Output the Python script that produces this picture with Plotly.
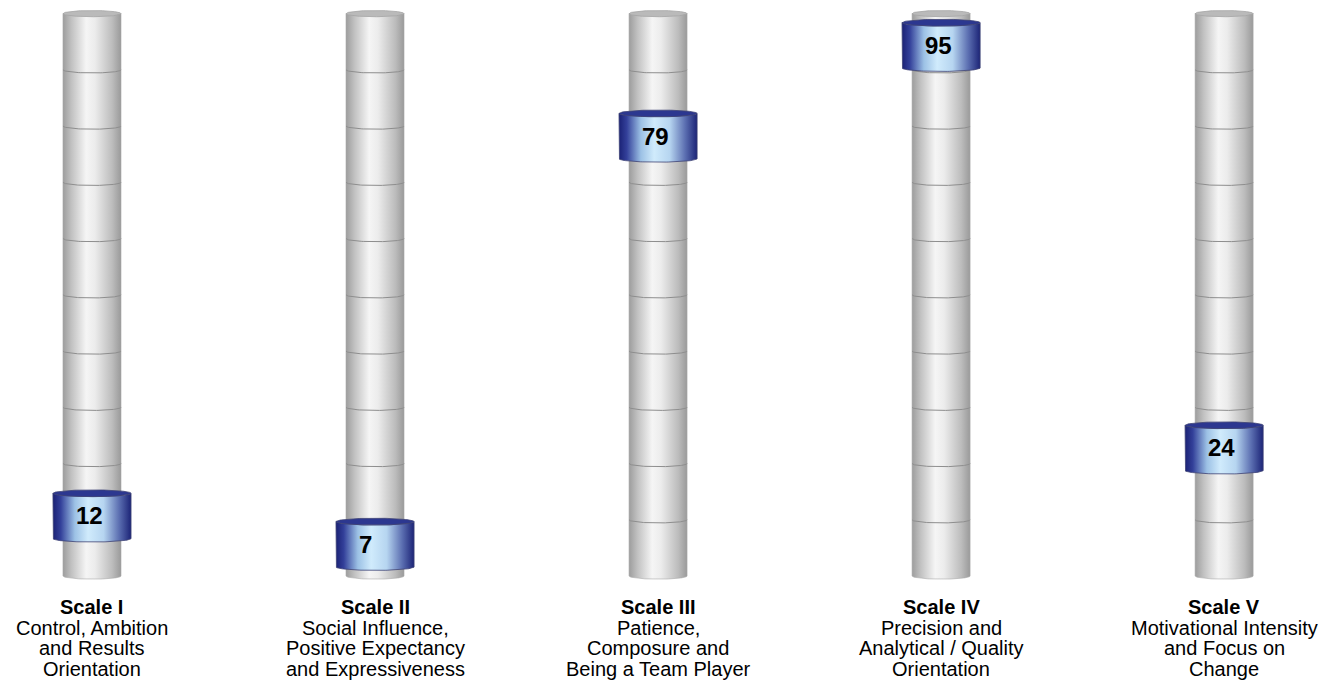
import numpy as np
import plotly.graph_objects as go

# ---- data ----
scale_names = ["Scale I", "Scale II", "Scale III", "Scale IV", "Scale V"]
scale_line1 = ["Control, Ambition", "Social Influence,", "Patience,", "Precision and", "Motivational Intensity"]
scale_line2 = ["and Results", "Positive Expectancy", "Composure and", "Analytical / Quality", "and Focus on"]
scale_line3 = ["Orientation", "and Expressiveness", "Being a Team Player", "Orientation", "Change"]
scores = [12, 7, 79, 95, 24]

# ---- geometry / style constants ----
W, H = 1341, 692
CYL_HW = 0.1025      # half width of the tube (x units)
CYL_BOT = 1.4
CYL_TOP = 100.6
N_SEG = 10
CYL_RY = 0.55
MK_HW = 0.138
MK_HH = 4.0
MK_RY = 0.6
FONT = "Arial, Liberation Sans, sans-serif"

t = np.linspace(0, np.pi, 61)
X = list(range(len(scores)))

fig = go.Figure()

grey_scale = [[0, "#9d9d9d"], [0.15, "#c2c2c2"], [0.4, "#f5f5f5"], [0.55, "#ececec"],
              [0.85, "#bcbcbc"], [1, "#9a9a9a"]]
blue_scale = [[0, "#1a2175"], [0.1, "#33409a"], [0.28, "#9cc1e5"], [0.45, "#d0ebfc"],
              [0.65, "#b6d5f0"], [0.85, "#5a6db0"], [1, "#1c2477"]]

for i, v in zip(X, scores):
    # tube body
    bx = np.concatenate([[i - CYL_HW, i + CYL_HW], i + CYL_HW * np.cos(t), [i - CYL_HW]])
    by = np.concatenate([[CYL_TOP, CYL_TOP], CYL_BOT - CYL_RY * np.sin(t), [CYL_TOP]])
    fig.add_trace(go.Scatter(x=bx, y=by, mode="lines", fill="toself",
                             fillgradient=dict(type="horizontal", colorscale=grey_scale),
                             line=dict(color="#a9a9a9", width=0.6),
                             hoverinfo="skip", showlegend=False))
    # segment rings
    sx, sy = [], []
    seg = (CYL_TOP - CYL_BOT) / N_SEG
    for k in range(1, N_SEG):
        yk = CYL_BOT + k * seg
        sx += list(i + CYL_HW * np.cos(t)) + [None]
        sy += list(yk - CYL_RY * np.sin(t)) + [None]
    fig.add_trace(go.Scatter(x=sx, y=sy, mode="lines", line=dict(color="#8e8e8e", width=1),
                             hoverinfo="skip", showlegend=False))
    # tube top face
    tt = np.linspace(0, 2 * np.pi, 121)
    fig.add_trace(go.Scatter(x=i + CYL_HW * np.cos(tt), y=CYL_TOP + CYL_RY * np.sin(tt),
                             mode="lines", fill="toself", fillcolor="#bababa",
                             line=dict(color="#a4a4a4", width=0.8),
                             hoverinfo="skip", showlegend=False))
    # marker band
    top = v + MK_HH
    bot = v - MK_HH
    mx = np.concatenate([[i - MK_HW], i - MK_HW * np.cos(t), i + MK_HW * np.cos(t)])
    my = np.concatenate([[top], bot - MK_RY * np.sin(t), top - MK_RY * np.sin(t)])
    fig.add_trace(go.Scatter(x=mx, y=my, mode="lines", fill="toself",
                             fillgradient=dict(type="horizontal", colorscale=blue_scale),
                             line=dict(color="#3d4275", width=0.8),
                             hoverinfo="skip", showlegend=False))
    fig.add_trace(go.Scatter(x=i + MK_HW * np.cos(tt), y=top + MK_RY * np.sin(tt),
                             mode="lines", fill="toself", fillcolor="#2c3790",
                             line=dict(color="#3d4275", width=0.8),
                             hoverinfo="skip", showlegend=False))
    fig.add_annotation(x=i, y=v, xref="x", yref="y", text="<b>%d</b>" % v,
                       showarrow=False, xanchor="left", yanchor="middle", xshift=-18,
                       font=dict(family=FONT, size=24, color="#000000"))

# category labels
line_px = [607, 628, 648, 669]
for i in X:
    texts = ["<b>%s</b>" % scale_names[i], scale_line1[i], scale_line2[i], scale_line3[i]]
    for txt, px in zip(texts, line_px):
        fig.add_annotation(x=i, y=1 - px / H, xref="x", yref="paper", text=txt,
                           showarrow=False, xanchor="center", yanchor="middle",
                           font=dict(family=FONT, size=20, color="#000000"))

fig.update_layout(
    width=W, height=H,
    margin=dict(l=0, r=0, t=0, b=0),
    paper_bgcolor="white", plot_bgcolor="white",
    xaxis=dict(range=[-0.325, 4.413], visible=False, fixedrange=True),
    yaxis=dict(range=[-19.05, 103.0], visible=False, fixedrange=True),
    showlegend=False,
)

fig.write_html("out.html")
